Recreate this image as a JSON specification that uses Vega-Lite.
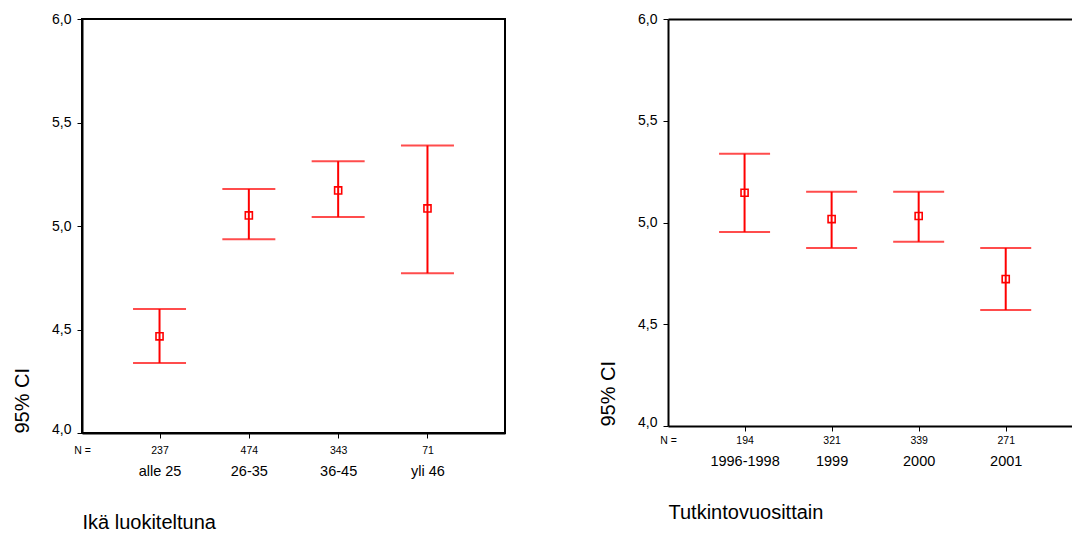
{
  "$schema": "https://vega.github.io/schema/vega-lite/v6.json",
  "padding": {"left": 11, "top": 11, "right": 0, "bottom": 0},
  "background": "white",
  "spacing": 163,
  "bounds": "flush",
  "datasets": {
    "ika": [
      {"group": "alle 25", "n": "237", "mean": 4.467, "lo": 4.338, "hi": 4.599},
      {"group": "26-35", "n": "474", "mean": 5.051, "lo": 4.936, "hi": 5.179},
      {"group": "36-45", "n": "343", "mean": 5.172, "lo": 5.043, "hi": 5.313},
      {"group": "yli 46", "n": "71", "mean": 5.085, "lo": 4.772, "hi": 5.389}
    ],
    "vuosi": [
      {"group": "1996-1998", "n": "194", "mean": 5.146, "lo": 4.953, "hi": 5.338},
      {"group": "1999", "n": "321", "mean": 5.017, "lo": 4.875, "hi": 5.151},
      {"group": "2000", "n": "339", "mean": 5.032, "lo": 4.905, "hi": 5.151},
      {"group": "2001", "n": "271", "mean": 4.722, "lo": 4.570, "hi": 4.875}
    ]
  },
  "config": {
    "font": "Liberation Sans",
    "axis": {"labelFont": "Liberation Sans", "titleFont": "Liberation Sans", "labelColor": "black", "titleColor": "black", "titleFontWeight": "normal", "grid": false, "domainColor": "black", "tickColor": "black"}
  },
  "hconcat": [
    {
      "width": 423,
      "height": 414,
      "data": {"name": "ika"},
      "view": {"stroke": "black", "strokeWidth": 2},
      "resolve": {"scale": {"x": "independent"}, "axis": {"x": "independent"}},
      "layer": [
        {
          "mark": {"type": "rule", "color": "#ff0000", "strokeWidth": 2},
          "encoding": {
            "x": {"field": "group", "type": "nominal", "sort": null, "scale": {"type": "point", "padding": 0.868},
              "axis": {"orient": "bottom", "domain": false, "ticks": false, "tickSize": 0, "labelPadding": 31.5, "labelFontSize": 14.5, "labelAngle": 0, "title": "Ikä luokiteltuna", "titleFontSize": 20, "titleAnchor": "start", "titleAlign": "left", "titleBaseline": "alphabetic", "titleX": 0, "titleY": 95.5}},
            "y": {"field": "lo", "type": "quantitative", "scale": {"domain": [4, 6], "nice": false, "zero": false},
              "axis": {"values": [4, 4.5, 5, 5.5, 6], "labelExpr": "replace(format(datum.value, '.1f'), '.', ',')", "labelFontSize": 14, "tickSize": 5, "labelPadding": 6, "domainWidth": 2, "title": "95% CI", "titleFontSize": 20, "titleAnchor": "start", "titlePadding": 19, "labelBaseline": {"condition": {"test": "datum.value == 4", "value": "alphabetic"}, "value": "middle"}}},
            "y2": {"field": "hi"}
          }
        },
        {
          "mark": {"type": "tick", "color": "#ff0000", "thickness": 2, "size": 53, "orient": "horizontal"},
          "encoding": {
            "x": {"field": "group", "type": "nominal", "sort": null, "scale": {"type": "point", "padding": 0.868}, "axis": null},
            "y": {"field": "hi", "type": "quantitative", "scale": {"domain": [4, 6], "nice": false, "zero": false},
              "axis": {"values": [4, 4.5, 5, 5.5, 6], "labelExpr": "replace(format(datum.value, '.1f'), '.', ',')", "labelFontSize": 14, "tickSize": 5, "labelPadding": 6, "domainWidth": 2, "title": "95% CI", "titleFontSize": 20, "titleAnchor": "start", "titlePadding": 19, "labelBaseline": {"condition": {"test": "datum.value == 4", "value": "alphabetic"}, "value": "middle"}}}
          }
        },
        {
          "mark": {"type": "tick", "color": "#ff0000", "thickness": 2, "size": 53, "orient": "horizontal"},
          "encoding": {
            "x": {"field": "group", "type": "nominal", "sort": null, "scale": {"type": "point", "padding": 0.868}, "axis": null},
            "y": {"field": "lo", "type": "quantitative", "scale": {"domain": [4, 6], "nice": false, "zero": false},
              "axis": {"values": [4, 4.5, 5, 5.5, 6], "labelExpr": "replace(format(datum.value, '.1f'), '.', ',')", "labelFontSize": 14, "tickSize": 5, "labelPadding": 6, "domainWidth": 2, "title": "95% CI", "titleFontSize": 20, "titleAnchor": "start", "titlePadding": 19, "labelBaseline": {"condition": {"test": "datum.value == 4", "value": "alphabetic"}, "value": "middle"}}}
          }
        },
        {
          "mark": {"type": "point", "shape": "square", "filled": false, "color": "#ff0000", "size": 50, "strokeWidth": 1.6, "opacity": 1},
          "encoding": {
            "x": {"field": "n", "type": "nominal", "sort": null, "scale": {"type": "point", "padding": 0.868},
              "axis": {"orient": "bottom", "domain": true, "domainWidth": 2, "ticks": true, "tickSize": 5, "labelPadding": 7, "labelFontSize": 10.5, "labelAngle": 0, "title": "N =", "titleFontSize": 10.5, "titleX": 0, "titleY": 12, "titleAlign": "center", "titleBaseline": "top", "titleAnchor": "start"}},
            "y": {"field": "mean", "type": "quantitative", "scale": {"domain": [4, 6], "nice": false, "zero": false},
              "axis": {"values": [4, 4.5, 5, 5.5, 6], "labelExpr": "replace(format(datum.value, '.1f'), '.', ',')", "labelFontSize": 14, "tickSize": 5, "labelPadding": 6, "domainWidth": 2, "title": "95% CI", "titleFontSize": 20, "titleAnchor": "start", "titlePadding": 19, "labelBaseline": {"condition": {"test": "datum.value == 4", "value": "alphabetic"}, "value": "middle"}}}
          }
        }
      ]
    },
    {
      "width": 404,
      "height": 407,
      "data": {"name": "vuosi"},
      "view": {"stroke": null},
      "resolve": {"scale": {"x": "independent"}, "axis": {"x": "independent"}},
      "layer": [
        {
          "mark": {"type": "rule", "color": "#ff0000", "strokeWidth": 2},
          "encoding": {
            "x": {"field": "group", "type": "nominal", "sort": null, "scale": {"type": "point", "padding": 0.8205, "align": 0.536},
              "axis": {"orient": "bottom", "domain": false, "ticks": false, "tickSize": 0, "labelPadding": 28.3, "labelFontSize": 14.5, "labelAngle": 0, "title": "Tutkintovuosittain", "titleFontSize": 20, "titleAnchor": "start", "titleAlign": "left", "titleBaseline": "alphabetic", "titleX": 0, "titleY": 92}},
            "y": {"field": "lo", "type": "quantitative", "scale": {"domain": [4, 6], "nice": false, "zero": false},
              "axis": {"values": [4, 4.5, 5, 5.5, 6], "labelExpr": "replace(format(datum.value, '.1f'), '.', ',')", "labelFontSize": 14, "tickSize": 5, "labelPadding": 6, "domainWidth": 2, "title": "95% CI", "titleFontSize": 20, "titleAnchor": "start", "titlePadding": 19, "labelBaseline": {"condition": {"test": "datum.value == 4", "value": "alphabetic"}, "value": "middle"}}},
            "y2": {"field": "hi"}
          }
        },
        {
          "mark": {"type": "tick", "color": "#ff0000", "thickness": 2, "size": 51, "orient": "horizontal"},
          "encoding": {
            "x": {"field": "group", "type": "nominal", "sort": null, "scale": {"type": "point", "padding": 0.8205, "align": 0.536},
              "axis": {"orient": "top", "domain": true, "domainWidth": 2, "ticks": false, "labels": false, "title": null}},
            "y": {"field": "hi", "type": "quantitative", "scale": {"domain": [4, 6], "nice": false, "zero": false},
              "axis": {"values": [4, 4.5, 5, 5.5, 6], "labelExpr": "replace(format(datum.value, '.1f'), '.', ',')", "labelFontSize": 14, "tickSize": 5, "labelPadding": 6, "domainWidth": 2, "title": "95% CI", "titleFontSize": 20, "titleAnchor": "start", "titlePadding": 19, "labelBaseline": {"condition": {"test": "datum.value == 4", "value": "alphabetic"}, "value": "middle"}}}
          }
        },
        {
          "mark": {"type": "tick", "color": "#ff0000", "thickness": 2, "size": 51, "orient": "horizontal"},
          "encoding": {
            "x": {"field": "group", "type": "nominal", "sort": null, "scale": {"type": "point", "padding": 0.8205, "align": 0.536}, "axis": null},
            "y": {"field": "lo", "type": "quantitative", "scale": {"domain": [4, 6], "nice": false, "zero": false},
              "axis": {"values": [4, 4.5, 5, 5.5, 6], "labelExpr": "replace(format(datum.value, '.1f'), '.', ',')", "labelFontSize": 14, "tickSize": 5, "labelPadding": 6, "domainWidth": 2, "title": "95% CI", "titleFontSize": 20, "titleAnchor": "start", "titlePadding": 19, "labelBaseline": {"condition": {"test": "datum.value == 4", "value": "alphabetic"}, "value": "middle"}}}
          }
        },
        {
          "mark": {"type": "point", "shape": "square", "filled": false, "color": "#ff0000", "size": 50, "strokeWidth": 1.6, "opacity": 1},
          "encoding": {
            "x": {"field": "n", "type": "nominal", "sort": null, "scale": {"type": "point", "padding": 0.8205, "align": 0.536},
              "axis": {"orient": "bottom", "domain": true, "domainWidth": 2, "ticks": true, "tickSize": 5, "labelPadding": 4.5, "labelFontSize": 10.5, "labelAngle": 0, "title": "N =", "titleFontSize": 10.5, "titleX": 0, "titleY": 9.5, "titleAlign": "center", "titleBaseline": "top", "titleAnchor": "start"}},
            "y": {"field": "mean", "type": "quantitative", "scale": {"domain": [4, 6], "nice": false, "zero": false},
              "axis": {"values": [4, 4.5, 5, 5.5, 6], "labelExpr": "replace(format(datum.value, '.1f'), '.', ',')", "labelFontSize": 14, "tickSize": 5, "labelPadding": 6, "domainWidth": 2, "title": "95% CI", "titleFontSize": 20, "titleAnchor": "start", "titlePadding": 19, "labelBaseline": {"condition": {"test": "datum.value == 4", "value": "alphabetic"}, "value": "middle"}}}
          }
        }
      ]
    }
  ]
}
